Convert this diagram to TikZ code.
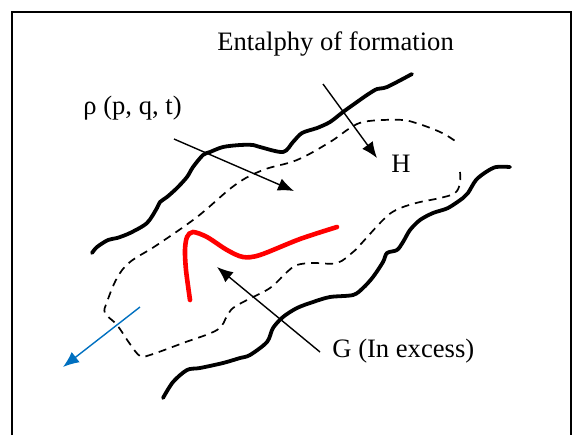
\documentclass[tikz,border=0pt]{standalone}
\usepackage{fontspec}
\setmainfont{Liberation Serif}
\usepackage{tikz}
\usetikzlibrary{arrows.meta}
\definecolor{RedChain}{RGB}{255,0,0}
\definecolor{BlueFlow}{RGB}{0,112,192}

\begin{document}
\begin{tikzpicture}[x=0.5pt,y=-0.5pt,>={Latex[length=8pt,width=6.5pt]},
  wall/.style={line width=1.9pt,line cap=round,line join=round},
  front/.style={line width=0.85pt,dash pattern=on 4pt off 3pt},
  pointer/.style={->,line width=0.7pt},
  tag/.style={font=\fontsize{13.3pt}{16pt}\selectfont,inner sep=0pt,anchor=base west}]
  \useasboundingbox (0,0) rectangle (573,435);
  \draw[line width=0.75pt] (12,435) -- (12,12) -- (571,12) -- (571,435);
  % labels
  \node[tag] (formation) at (217,50) {Entalphy of formation};
  \node[tag] (rho) at (83,114) {ρ (p, q, t)};
  \node[tag] (hlab) at (391,172) {H};
  \node[tag] (glab) at (332,357) {G (In excess)};
  % rough walls
  \draw[wall] plot[smooth,tension=0.5] coordinates {(92,253) (97,247) (108,240) (117,238) (130,233)
    (147,223) (157,208) (160,202) (167,197) (177,188) (187,177) (193,167) (203,155) (210,152)
    (223,147) (240,145) (253,145) (260,147) (283,152) (293,142) (302,133) (317,128) (330,122)
    (343,112) (357,102) (367,95) (377,89) (387,87) (412,74)};
  \draw[wall] plot[smooth,tension=0.5] coordinates {(163,398) (173,382) (187,370) (200,368) (223,363)
    (240,358) (250,355) (267,342) (273,328) (283,317) (297,308) (313,302) (330,297) (353,295)
    (363,288) (373,277) (383,262) (387,253) (397,250) (403,242) (410,230) (420,220) (433,213)
    (448,208) (463,198) (468,193) (476,180) (486,172) (496,167) (510,167)};
  % dashed zone
  \draw[front] plot[smooth,tension=0.6] coordinates {(460,172) (460,183) (455,193) (440,198) (416,203)
    (396,210) (383,220) (360,245) (353,252) (337,263) (313,263) (297,265) (287,272) (270,288)
    (247,300) (233,308) (227,316) (217,330) (183,343) (150,355) (140,356) (130,344) (117,325)
    (105,313) (107,302) (117,278) (130,262) (157,245) (197,217) (235,185) (263,170) (297,160)
    (330,142) (350,128) (363,122) (383,120) (403,120) (416,123) (433,129) (446,135) (458,143)};
  % red chain
  \draw[RedChain,line width=2.3pt,line cap=round] plot[smooth,tension=0.5] coordinates {(190,300)
    (186,270) (185,250) (187,237) (193,232) (207,237) (227,250) (243,257) (260,255) (300,239) (337,227)};
  % arrows
  \coordinate (rhoA) at (174,139);
  \coordinate (rhoB) at (294,191);
  \coordinate (hA) at (323,84);
  \coordinate (hB) at (377,158);
  \coordinate (gA) at (320,352);
  \coordinate (gB) at (217,267);
  \coordinate (outA) at (140,307);
  \coordinate (outB) at (63,367);
  \draw[pointer] (rhoA) -- (rhoB);
  \draw[pointer] (hA) -- (hB);
  \draw[pointer] (gA) -- (gB);
  \draw[pointer,BlueFlow] (outA) -- (outB);
\end{tikzpicture}
\end{document}
